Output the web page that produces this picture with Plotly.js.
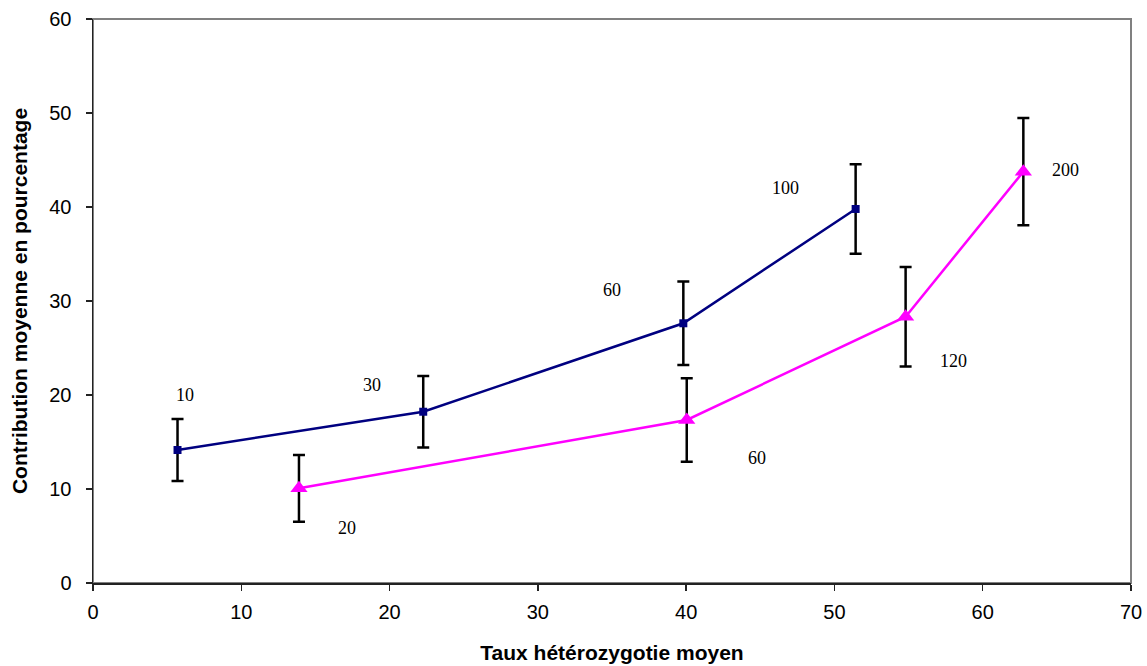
<!DOCTYPE html>
<html>
<head>
<meta charset="utf-8">
<script src="https://cdn.plot.ly/plotly-3.0.1.min.js"></script>
<style>html,body{margin:0;padding:0;background:#fff;}#chart{width:1147px;height:666px;}</style>
</head>
<body>
<div id="chart"></div>
<script>
// Series 1 (navy squares)
const blueX = [5.7, 22.27, 39.81, 51.43];
const blueY = [14.15, 18.22, 27.63, 39.79];
const blueErr = [3.3, 3.8, 4.45, 4.77];
const blueLabels = ["10", "30", "60", "100"];
const blueLabelX = [6.2, 18.8, 35.0, 46.7];
const blueLabelY = [20.0, 21.1, 31.2, 42.0];

// Series 2 (magenta triangles)
const pinkX = [13.89, 40.04, 54.8, 62.74];
const pinkY = [10.07, 17.34, 28.33, 43.76];
const pinkErr = [3.55, 4.45, 5.3, 5.7];
const pinkLabels = ["20", "60", "120", "200"];
const pinkLabelX = [17.1, 44.8, 58.0, 65.6];
const pinkLabelY = [5.85, 13.3, 23.6, 43.9];

const xTicks = [0, 10, 20, 30, 40, 50, 60, 70];
const yTicks = [0, 10, 20, 30, 40, 50, 60];

const errStyle = (arr) => ({type: 'data', array: arr, visible: true, color: '#000000', thickness: 2.5, width: 6});

const traces = [
  {
    x: blueX, y: blueY, type: 'scatter', mode: 'lines+markers',
    line: {color: '#000080', width: 2.5},
    marker: {symbol: 'square', size: 8, color: '#000080'},
    error_y: errStyle(blueErr),
    hoverinfo: 'x+y', showlegend: false
  },
  {
    x: pinkX, y: pinkY, type: 'scatter', mode: 'lines+markers',
    line: {color: '#FF00FF', width: 2.5},
    marker: {symbol: 'triangle-up', size: 15, color: '#FF00FF'},
    error_y: errStyle(pinkErr),
    hoverinfo: 'x+y', showlegend: false
  }
];

const labelFont = {family: 'Liberation Serif, Times New Roman, serif', size: 18, color: '#000000'};
const annotations = [];
blueLabels.forEach((t, i) => annotations.push({x: blueLabelX[i], y: blueLabelY[i], xref: 'x', yref: 'y', text: t, showarrow: false, font: labelFont}));
pinkLabels.forEach((t, i) => annotations.push({x: pinkLabelX[i], y: pinkLabelY[i], xref: 'x', yref: 'y', text: t, showarrow: false, font: labelFont}));

const tickFont = {family: 'Liberation Sans, Arial, sans-serif', size: 20, color: '#000000'};
const titleFont = {family: 'Liberation Sans, Arial, sans-serif', size: 21, color: '#000000', weight: 'bold'};

const layout = {
  width: 1147, height: 666,
  margin: {l: 93, r: 16, t: 19, b: 83},
  paper_bgcolor: '#ffffff', plot_bgcolor: '#ffffff',
  xaxis: {
    range: [0, 70], tickvals: xTicks, ticktext: xTicks.map(String),
    ticks: 'outside', ticklen: 6, tickwidth: 1.5, tickcolor: '#222222',
    ticklabelstandoff: 4,
    showline: true, linecolor: '#222222', linewidth: 1.5,
    showgrid: false, zeroline: false, tickfont: tickFont,
    title: {text: '<b>Taux hétérozygotie moyen</b>', font: titleFont, standoff: 24}
  },
  yaxis: {
    range: [0, 60], tickvals: yTicks, ticktext: yTicks.map(String),
    ticks: 'outside', ticklen: 6, tickwidth: 1.5, tickcolor: '#222222',
    ticklabelstandoff: 10,
    showline: true, linecolor: '#222222', linewidth: 1.5,
    showgrid: false, zeroline: false, tickfont: tickFont,
    title: {text: '<b>Contribution moyenne en pourcentage</b>', font: titleFont, standoff: 16}
  },
  shapes: [{
    type: 'rect', xref: 'paper', yref: 'paper', x0: 0, y0: 0, x1: 1, y1: 1,
    line: {color: '#808080', width: 2}, layer: 'below'
  }],
  annotations: annotations
};

Plotly.newPlot('chart', traces, layout, {displayModeBar: false, staticPlot: true});
</script>
</body>
</html>
